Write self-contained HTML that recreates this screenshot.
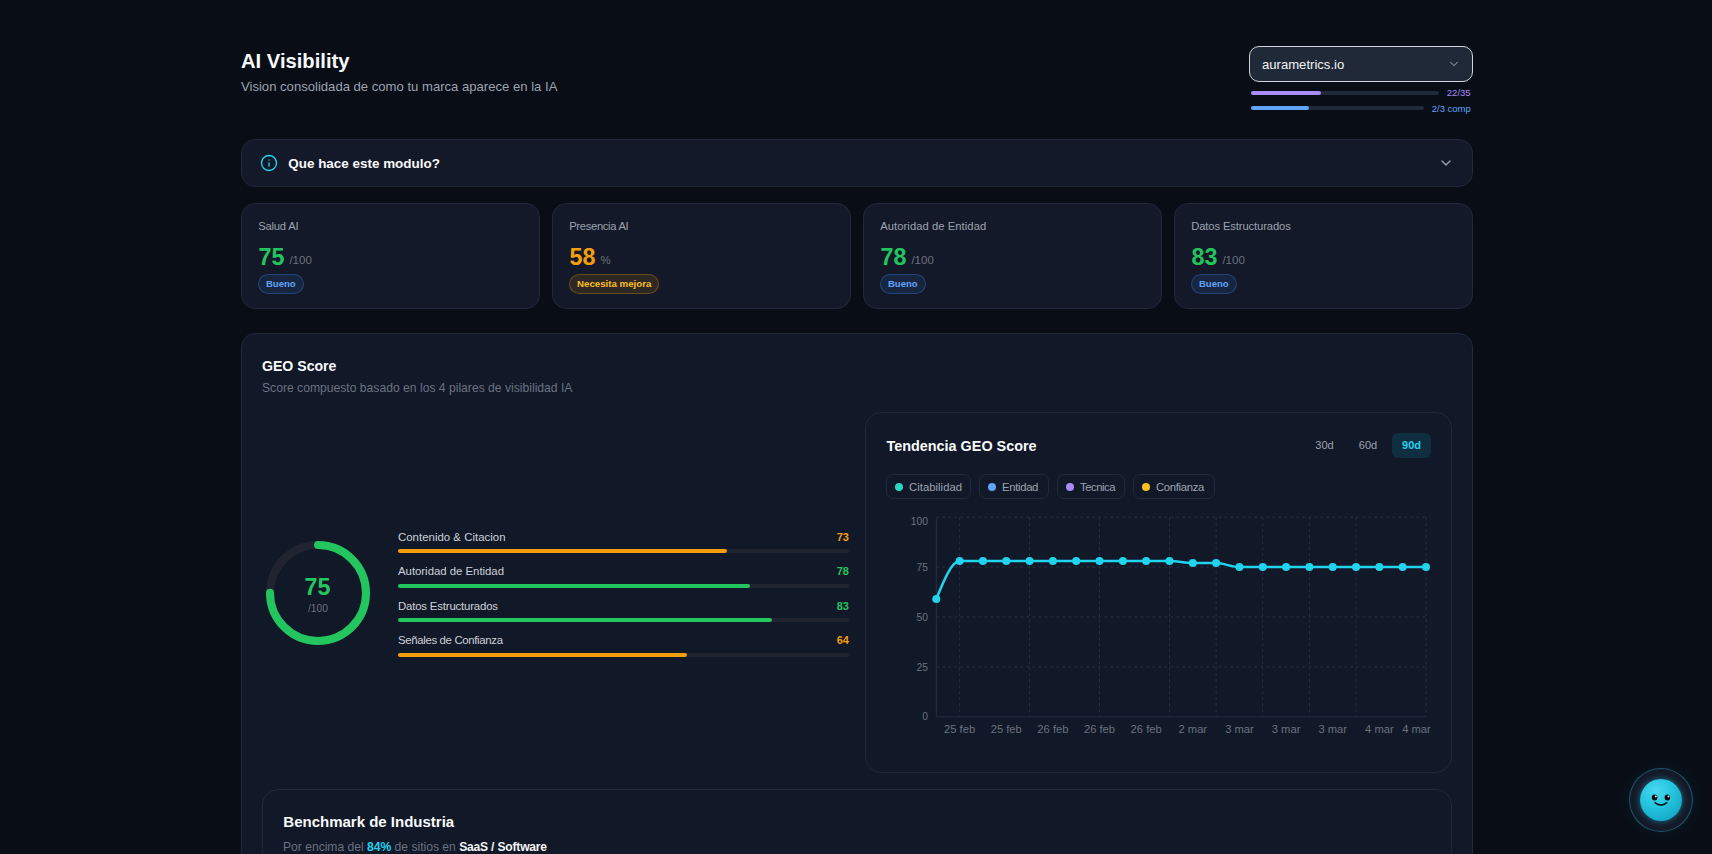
<!DOCTYPE html>
<html><head><meta charset="utf-8"><title>AI Visibility</title>
<style>
html,body{margin:0;padding:0;}
body{width:1712px;height:854px;overflow:hidden;background:#090d16;font-family:"Liberation Sans",sans-serif;position:relative;}
.t{position:absolute;white-space:nowrap;}
.b{position:absolute;box-sizing:border-box;}
.pill{border-radius:999px;font-weight:700;white-space:nowrap;font-family:"Liberation Sans",sans-serif;}
</style></head><body>
<div class="t" style="left:241.00px;top:51.00px;font-size:20.2px;line-height:20.2px;color:#f9fafb;font-weight:700;">AI Visibility</div>
<div class="t" style="left:241.00px;top:80.00px;font-size:13.1px;line-height:13.1px;color:#9ca3af;font-weight:400;">Vision consolidada de como tu marca aparece en la IA</div>
<div class="b" style="left:1249px;top:46px;width:224px;height:36px;background:#1f2937;border:1px solid #d1d5db;border-radius:10px;border-width:1.5px;"></div>
<div class="t" style="left:1262.00px;top:58.00px;font-size:13.1px;line-height:13.1px;color:#f3f4f6;font-weight:400;">aurametrics.io</div>
<svg class="b" style="left:1449px;top:60px" width="10" height="8" viewBox="0 0 10 8"><path d="M1.6 2.3 L5 5.6 L8.4 2.3" fill="none" stroke="#7d8491" stroke-width="1.1" stroke-linecap="round" stroke-linejoin="round"/></svg>
<div class="b" style="left:1251px;top:91px;width:188px;height:4px;background:#1f2937;border-radius:2px;"></div>
<div class="b" style="left:1251px;top:91px;width:70px;height:4px;background:#a78bfa;border-radius:2px;"></div>
<div class="t" style="right:241.40px;top:88.00px;font-size:9.5px;line-height:9.5px;color:#a78bfa;font-weight:400;">22/35</div>
<div class="b" style="left:1251px;top:106px;width:173px;height:4px;background:#1f2937;border-radius:2px;"></div>
<div class="b" style="left:1251px;top:106px;width:58px;height:4px;background:#60a5fa;border-radius:2px;"></div>
<div class="t" style="right:241.20px;top:104.00px;font-size:9.5px;line-height:9.5px;color:#60a5fa;font-weight:400;">2/3 comp</div>
<div class="b" style="left:241px;top:139px;width:1232px;height:48px;background:#131928;border:1px solid #1f2937;border-radius:14px;"></div>
<svg class="b" style="left:260px;top:154px" width="18" height="18" viewBox="0 0 24 24" fill="none" stroke="#22d3ee" stroke-width="1.8" stroke-linecap="round" stroke-linejoin="round"><circle cx="12" cy="12" r="10"/><path d="M12 16v-4"/><path d="M12 8h.01"/></svg>
<div class="t" style="left:288.30px;top:157.00px;font-size:13.45px;line-height:13.45px;color:#f9fafb;font-weight:700;">Que hace este modulo?</div>
<svg class="b" style="left:1438px;top:155px" width="16" height="16" viewBox="0 0 24 24" fill="none" stroke="#9ca3af" stroke-width="2" stroke-linecap="round" stroke-linejoin="round"><path d="m6 9 6 6 6-6"/></svg>
<div class="b" style="left:241px;top:203px;width:299px;height:106px;background:#131928;border:1px solid #1f2937;border-radius:14px;"></div>
<div class="t" style="left:258.20px;top:221.00px;font-size:11.2px;line-height:11.2px;color:#9ca3af;font-weight:400;letter-spacing:-0.184px;">Salud AI</div>
<div class="t" style="left:258.5px;top:246px;font-size:23.3px;line-height:23.3px;font-weight:700;color:#22c55e">75<span style="font-size:11.5px;font-weight:400;color:#6b7280;margin-left:5px;position:relative;top:-0.6px">/100</span></div>
<div class="b pill" style="left:258px;top:274px;height:20px;padding:0 7px;background:rgba(59,130,246,0.12);border:1px solid rgba(59,130,246,0.32);color:#60a5fa;font-size:9.5px;line-height:18px">Bueno</div>
<div class="b" style="left:552px;top:203px;width:299px;height:106px;background:#131928;border:1px solid #1f2937;border-radius:14px;"></div>
<div class="t" style="left:569.20px;top:221.00px;font-size:11.2px;line-height:11.2px;color:#9ca3af;font-weight:400;letter-spacing:-0.301px;">Presencia AI</div>
<div class="t" style="left:569.5px;top:246px;font-size:23.3px;line-height:23.3px;font-weight:700;color:#f59e0b">58<span style="font-size:11.5px;font-weight:400;color:#6b7280;margin-left:5px;position:relative;top:-0.6px">%</span></div>
<div class="b pill" style="left:569px;top:274px;height:20px;padding:0 7px;background:rgba(245,158,11,0.12);border:1px solid rgba(245,158,11,0.3);color:#fbbf24;font-size:9.7px;line-height:18px">Necesita mejora</div>
<div class="b" style="left:863px;top:203px;width:299px;height:106px;background:#131928;border:1px solid #1f2937;border-radius:14px;"></div>
<div class="t" style="left:880.20px;top:221.00px;font-size:11.2px;line-height:11.2px;color:#9ca3af;font-weight:400;letter-spacing:0.079px;">Autoridad de Entidad</div>
<div class="t" style="left:880.5px;top:246px;font-size:23.3px;line-height:23.3px;font-weight:700;color:#22c55e">78<span style="font-size:11.5px;font-weight:400;color:#6b7280;margin-left:5px;position:relative;top:-0.6px">/100</span></div>
<div class="b pill" style="left:880px;top:274px;height:20px;padding:0 7px;background:rgba(59,130,246,0.12);border:1px solid rgba(59,130,246,0.32);color:#60a5fa;font-size:9.5px;line-height:18px">Bueno</div>
<div class="b" style="left:1174px;top:203px;width:299px;height:106px;background:#131928;border:1px solid #1f2937;border-radius:14px;"></div>
<div class="t" style="left:1191.20px;top:221.00px;font-size:11.2px;line-height:11.2px;color:#9ca3af;font-weight:400;letter-spacing:-0.098px;">Datos Estructurados</div>
<div class="t" style="left:1191.5px;top:246px;font-size:23.3px;line-height:23.3px;font-weight:700;color:#22c55e">83<span style="font-size:11.5px;font-weight:400;color:#6b7280;margin-left:5px;position:relative;top:-0.6px">/100</span></div>
<div class="b pill" style="left:1191px;top:274px;height:20px;padding:0 7px;background:rgba(59,130,246,0.12);border:1px solid rgba(59,130,246,0.32);color:#60a5fa;font-size:9.5px;line-height:18px">Bueno</div>
<div class="b" style="left:241px;top:333px;width:1232px;height:567px;background:#111827;border:1px solid #1f2937;border-radius:14px;"></div>
<div class="t" style="left:262.00px;top:359.00px;font-size:14.1px;line-height:14.1px;color:#f9fafb;font-weight:700;">GEO Score</div>
<div class="t" style="left:262.00px;top:382.00px;font-size:12.15px;line-height:12.15px;color:#6b7280;font-weight:400;">Score compuesto basado en los 4 pilares de visibilidad IA</div>
<svg class="b" style="left:262px;top:536.7px" width="112" height="112" viewBox="0 0 112 112"><circle cx="56" cy="56" r="48" fill="none" stroke="#1f2430" stroke-width="8"/><circle cx="56" cy="56" r="48" fill="none" stroke="#22c55e" stroke-width="8" stroke-linecap="round" stroke-dasharray="226.19 301.59" transform="rotate(-90 56 56)"/></svg>
<div class="t" style="left:317.50px;transform:translateX(-50%);top:576.00px;font-size:23.3px;line-height:23.3px;color:#22c55e;font-weight:700;">75</div>
<div class="t" style="left:318.00px;transform:translateX(-50%);top:604.00px;font-size:10.3px;line-height:10.3px;color:#6b7280;font-weight:400;">/100</div>
<div class="t" style="left:398.00px;top:532.00px;font-size:11.4px;line-height:11.4px;color:#cdd2da;font-weight:400;letter-spacing:0.025px;">Contenido &amp; Citacion</div>
<div class="t" style="right:863.00px;top:532.00px;font-size:11px;line-height:11px;color:#f59e0b;font-weight:700;">73</div>
<div class="b" style="left:398px;top:549px;width:451px;height:4px;background:#1f2430;border-radius:2px;"></div>
<div class="b" style="left:398px;top:549px;width:329.23px;height:4px;background:#f59e0b;border-radius:2px;"></div>
<div class="t" style="left:398.00px;top:566.00px;font-size:11.4px;line-height:11.4px;color:#cdd2da;font-weight:400;letter-spacing:-0.021px;">Autoridad de Entidad</div>
<div class="t" style="right:863.00px;top:566.00px;font-size:11px;line-height:11px;color:#22c55e;font-weight:700;">78</div>
<div class="b" style="left:398px;top:584px;width:451px;height:4px;background:#1f2430;border-radius:2px;"></div>
<div class="b" style="left:398px;top:584px;width:351.78px;height:4px;background:#22c55e;border-radius:2px;"></div>
<div class="t" style="left:398.00px;top:601.00px;font-size:11.4px;line-height:11.4px;color:#cdd2da;font-weight:400;letter-spacing:-0.178px;">Datos Estructurados</div>
<div class="t" style="right:863.00px;top:601.00px;font-size:11px;line-height:11px;color:#22c55e;font-weight:700;">83</div>
<div class="b" style="left:398px;top:618px;width:451px;height:4px;background:#1f2430;border-radius:2px;"></div>
<div class="b" style="left:398px;top:618px;width:374.3299999999999px;height:4px;background:#22c55e;border-radius:2px;"></div>
<div class="t" style="left:398.00px;top:635.00px;font-size:11.4px;line-height:11.4px;color:#cdd2da;font-weight:400;letter-spacing:-0.34px;">Se&ntilde;ales de Confianza</div>
<div class="t" style="right:863.00px;top:635.00px;font-size:11px;line-height:11px;color:#f59e0b;font-weight:700;">64</div>
<div class="b" style="left:398px;top:653px;width:451px;height:4px;background:#1f2430;border-radius:2px;"></div>
<div class="b" style="left:398px;top:653px;width:288.64px;height:4px;background:#f59e0b;border-radius:2px;"></div>
<div class="b" style="left:865px;top:412px;width:587px;height:361px;background:#111827;border:1px solid #1f2937;border-radius:16px;"></div>
<div class="t" style="left:886.50px;top:439.00px;font-size:14.4px;line-height:14.4px;color:#f9fafb;font-weight:700;">Tendencia GEO Score</div>
<div class="t" style="left:1324.50px;transform:translateX(-50%);top:440.00px;font-size:11px;line-height:11px;color:#9ca3af;font-weight:400;">30d</div>
<div class="t" style="left:1368.00px;transform:translateX(-50%);top:440.00px;font-size:11px;line-height:11px;color:#9ca3af;font-weight:400;">60d</div>
<div class="b" style="left:1392px;top:433px;width:39px;height:25px;background:rgba(6,182,212,0.15);border-radius:6px;"></div>
<div class="t" style="left:1411.50px;transform:translateX(-50%);top:440.00px;font-size:11px;line-height:11px;color:#22d3ee;font-weight:600;">90d</div>
<div class="b" style="left:886px;top:474px;width:85px;height:25px;background:transparent;border:1px solid #1f2937;border-radius:7px;"></div>
<div class="b" style="left:895px;top:483px;width:8px;height:8px;border-radius:50%;background:#2dd4bf"></div>
<div class="t" style="left:909.00px;top:482.00px;font-size:11.3px;line-height:11.3px;color:#9ca3af;font-weight:400;letter-spacing:0.033px;">Citabilidad</div>
<div class="b" style="left:979px;top:474px;width:70px;height:25px;background:transparent;border:1px solid #1f2937;border-radius:7px;"></div>
<div class="b" style="left:988px;top:483px;width:8px;height:8px;border-radius:50%;background:#60a5fa"></div>
<div class="t" style="left:1002.00px;top:482.00px;font-size:11.3px;line-height:11.3px;color:#9ca3af;font-weight:400;letter-spacing:-0.321px;">Entidad</div>
<div class="b" style="left:1057px;top:474px;width:68px;height:25px;background:transparent;border:1px solid #1f2937;border-radius:7px;"></div>
<div class="b" style="left:1066px;top:483px;width:8px;height:8px;border-radius:50%;background:#a78bfa"></div>
<div class="t" style="left:1080.00px;top:482.00px;font-size:11.3px;line-height:11.3px;color:#9ca3af;font-weight:400;letter-spacing:-0.469px;">Tecnica</div>
<div class="b" style="left:1133px;top:474px;width:82px;height:25px;background:transparent;border:1px solid #1f2937;border-radius:7px;"></div>
<div class="b" style="left:1142px;top:483px;width:8px;height:8px;border-radius:50%;background:#fbbf24"></div>
<div class="t" style="left:1156.00px;top:482.00px;font-size:11.3px;line-height:11.3px;color:#9ca3af;font-weight:400;letter-spacing:-0.322px;">Confianza</div>
<svg class="b" style="left:0;top:0" width="1712" height="854"><line x1="936.3" y1="517.2" x2="1426.0" y2="517.2" stroke="#243040" stroke-dasharray="3 3"/><line x1="936.3" y1="567.1" x2="1426.0" y2="567.1" stroke="#243040" stroke-dasharray="3 3"/><line x1="936.3" y1="617.0" x2="1426.0" y2="617.0" stroke="#243040" stroke-dasharray="3 3"/><line x1="936.3" y1="666.9" x2="1426.0" y2="666.9" stroke="#243040" stroke-dasharray="3 3"/><line x1="959.62" y1="517.2" x2="959.62" y2="716.8" stroke="#243040" stroke-dasharray="3 3"/><line x1="1029.58" y1="517.2" x2="1029.58" y2="716.8" stroke="#243040" stroke-dasharray="3 3"/><line x1="1099.53" y1="517.2" x2="1099.53" y2="716.8" stroke="#243040" stroke-dasharray="3 3"/><line x1="1169.49" y1="517.2" x2="1169.49" y2="716.8" stroke="#243040" stroke-dasharray="3 3"/><line x1="1216.13" y1="517.2" x2="1216.13" y2="716.8" stroke="#243040" stroke-dasharray="3 3"/><line x1="1262.77" y1="517.2" x2="1262.77" y2="716.8" stroke="#243040" stroke-dasharray="3 3"/><line x1="1309.40" y1="517.2" x2="1309.40" y2="716.8" stroke="#243040" stroke-dasharray="3 3"/><line x1="1356.04" y1="517.2" x2="1356.04" y2="716.8" stroke="#243040" stroke-dasharray="3 3"/><line x1="1426.00" y1="517.2" x2="1426.00" y2="716.8" stroke="#243040" stroke-dasharray="3 3"/><line x1="936.3" y1="517.2" x2="936.3" y2="716.8" stroke="#243040"/><line x1="936.3" y1="716.8" x2="1426.0" y2="716.8" stroke="#243040"/><path d="M936.30,599.04C944.07,580.07,951.85,561.11,959.62,561.11C967.39,561.11,975.17,561.11,982.94,561.11C990.71,561.11,998.48,561.11,1006.26,561.11C1014.03,561.11,1021.80,561.11,1029.58,561.11C1037.35,561.11,1045.12,561.11,1052.90,561.11C1060.67,561.11,1068.44,561.11,1076.21,561.11C1083.99,561.11,1091.76,561.11,1099.53,561.11C1107.31,561.11,1115.08,561.11,1122.85,561.11C1130.63,561.11,1138.40,561.11,1146.17,561.11C1153.94,561.11,1161.72,561.11,1169.49,561.11C1177.26,561.11,1185.04,563.11,1192.81,563.11C1200.58,563.11,1208.36,563.11,1216.13,563.11C1223.90,563.11,1231.67,567.10,1239.45,567.10C1247.22,567.10,1254.99,567.10,1262.77,567.10C1270.54,567.10,1278.31,567.10,1286.09,567.10C1293.86,567.10,1301.63,567.10,1309.40,567.10C1317.18,567.10,1324.95,567.10,1332.72,567.10C1340.50,567.10,1348.27,567.10,1356.04,567.10C1363.82,567.10,1371.59,567.10,1379.36,567.10C1387.13,567.10,1394.91,567.10,1402.68,567.10C1410.45,567.10,1418.23,567.10,1426.00,567.10" fill="none" stroke="#22d3ee" stroke-width="2.5"/><circle cx="936.30" cy="599.04" r="4" fill="#22d3ee"/><circle cx="959.62" cy="561.11" r="4" fill="#22d3ee"/><circle cx="982.94" cy="561.11" r="4" fill="#22d3ee"/><circle cx="1006.26" cy="561.11" r="4" fill="#22d3ee"/><circle cx="1029.58" cy="561.11" r="4" fill="#22d3ee"/><circle cx="1052.90" cy="561.11" r="4" fill="#22d3ee"/><circle cx="1076.21" cy="561.11" r="4" fill="#22d3ee"/><circle cx="1099.53" cy="561.11" r="4" fill="#22d3ee"/><circle cx="1122.85" cy="561.11" r="4" fill="#22d3ee"/><circle cx="1146.17" cy="561.11" r="4" fill="#22d3ee"/><circle cx="1169.49" cy="561.11" r="4" fill="#22d3ee"/><circle cx="1192.81" cy="563.11" r="4" fill="#22d3ee"/><circle cx="1216.13" cy="563.11" r="4" fill="#22d3ee"/><circle cx="1239.45" cy="567.10" r="4" fill="#22d3ee"/><circle cx="1262.77" cy="567.10" r="4" fill="#22d3ee"/><circle cx="1286.09" cy="567.10" r="4" fill="#22d3ee"/><circle cx="1309.40" cy="567.10" r="4" fill="#22d3ee"/><circle cx="1332.72" cy="567.10" r="4" fill="#22d3ee"/><circle cx="1356.04" cy="567.10" r="4" fill="#22d3ee"/><circle cx="1379.36" cy="567.10" r="4" fill="#22d3ee"/><circle cx="1402.68" cy="567.10" r="4" fill="#22d3ee"/><circle cx="1426.00" cy="567.10" r="4" fill="#22d3ee"/></svg>
<div class="t" style="right:784.00px;top:517.00px;font-size:10.3px;line-height:10.3px;color:#6b7280;font-weight:400;">100</div>
<div class="t" style="right:784.00px;top:563.00px;font-size:10.3px;line-height:10.3px;color:#6b7280;font-weight:400;">75</div>
<div class="t" style="right:784.00px;top:613.00px;font-size:10.3px;line-height:10.3px;color:#6b7280;font-weight:400;">50</div>
<div class="t" style="right:784.00px;top:663.00px;font-size:10.3px;line-height:10.3px;color:#6b7280;font-weight:400;">25</div>
<div class="t" style="right:784.00px;top:712.00px;font-size:10.3px;line-height:10.3px;color:#6b7280;font-weight:400;">0</div>
<div class="t" style="left:959.62px;transform:translateX(-50%);top:724.00px;font-size:11.2px;line-height:11.2px;color:#6b7280;font-weight:400;">25 feb</div>
<div class="t" style="left:1006.26px;transform:translateX(-50%);top:724.00px;font-size:11.2px;line-height:11.2px;color:#6b7280;font-weight:400;">25 feb</div>
<div class="t" style="left:1052.90px;transform:translateX(-50%);top:724.00px;font-size:11.2px;line-height:11.2px;color:#6b7280;font-weight:400;">26 feb</div>
<div class="t" style="left:1099.53px;transform:translateX(-50%);top:724.00px;font-size:11.2px;line-height:11.2px;color:#6b7280;font-weight:400;">26 feb</div>
<div class="t" style="left:1146.17px;transform:translateX(-50%);top:724.00px;font-size:11.2px;line-height:11.2px;color:#6b7280;font-weight:400;">26 feb</div>
<div class="t" style="left:1192.81px;transform:translateX(-50%);top:724.00px;font-size:11.2px;line-height:11.2px;color:#6b7280;font-weight:400;">2 mar</div>
<div class="t" style="left:1239.45px;transform:translateX(-50%);top:724.00px;font-size:11.2px;line-height:11.2px;color:#6b7280;font-weight:400;">3 mar</div>
<div class="t" style="left:1286.09px;transform:translateX(-50%);top:724.00px;font-size:11.2px;line-height:11.2px;color:#6b7280;font-weight:400;">3 mar</div>
<div class="t" style="left:1332.72px;transform:translateX(-50%);top:724.00px;font-size:11.2px;line-height:11.2px;color:#6b7280;font-weight:400;">3 mar</div>
<div class="t" style="left:1379.36px;transform:translateX(-50%);top:724.00px;font-size:11.2px;line-height:11.2px;color:#6b7280;font-weight:400;">4 mar</div>
<div class="t" style="left:1416.50px;transform:translateX(-50%);top:724.00px;font-size:11.2px;line-height:11.2px;color:#6b7280;font-weight:400;">4 mar</div>
<div class="b" style="left:262px;top:789px;width:1190px;height:111px;background:#111827;border:1px solid #1f2937;border-radius:16px;"></div>
<div class="t" style="left:283.30px;top:814.00px;font-size:15px;line-height:15px;color:#f9fafb;font-weight:700;">Benchmark de Industria</div>
<div class="t" style="left:283px;top:841px;font-size:12.1px;line-height:12.1px;color:#6b7280">Por encima del <b style="color:#22d3ee">84%</b> de sitios en <b style="color:#f3f4f6;letter-spacing:-0.2px">SaaS / Software</b></div>
<div class="b" style="left:1629px;top:768px;width:64px;height:64px;border-radius:50%;background:#151a2a;border:1px solid rgba(34,211,238,0.32);box-shadow:0 0 20px rgba(34,211,238,0.08)"></div>
<div class="b" style="left:1640px;top:779px;width:42px;height:42px;border-radius:50%;background:radial-gradient(circle at 38% 28%, #4ad9f0 0%, #25c5e0 40%, #16aac8 78%, #1199b8 100%);box-shadow:0 0 6px rgba(34,211,238,0.5)"></div>
<svg class="b" style="left:1640px;top:780px" width="42" height="42" viewBox="0 0 42 42"><ellipse cx="14.6" cy="17.45" rx="2.75" ry="3.05" fill="#05070c"/><ellipse cx="27.4" cy="17.45" rx="2.75" ry="3.05" fill="#05070c"/><circle cx="15.8" cy="16.4" r="0.95" fill="#f2f4f7"/><circle cx="28.5" cy="16.4" r="0.95" fill="#f2f4f7"/><path d="M15 22.6 Q20.95 27.3 26.9 22.6" fill="none" stroke="#05070c" stroke-width="1.35" stroke-linecap="round"/></svg>
</body></html>
